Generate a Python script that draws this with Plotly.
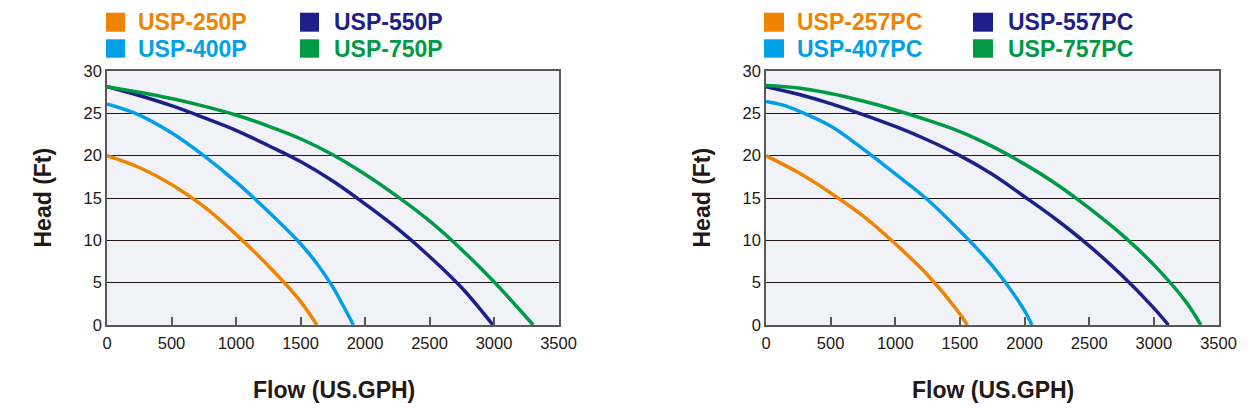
import plotly.graph_objects as go

# pump curves, left panel (flow in US.GPH, head in Ft)
flow_250p = [0, 250, 500, 750, 1000, 1250, 1500, 1627]
head_250p = [20, 18.6, 16.6, 14.0, 10.7, 7.0, 2.8, 0]
flow_400p = [0, 250, 500, 750, 1000, 1250, 1500, 1625, 1750, 1830, 1910]
head_400p = [26.1, 24.8, 22.7, 20.0, 16.9, 13.4, 9.6, 7.3, 4.5, 2.3, 0]
flow_550p = [0, 250, 500, 750, 1000, 1250, 1500, 1750, 2000, 2250, 2500, 2750, 2992]
head_550p = [28.15, 27.1, 25.9, 24.5, 23.0, 21.2, 19.3, 17.0, 14.3, 11.4, 8.1, 4.4, 0]
flow_750p = [0, 250, 500, 750, 1000, 1250, 1500, 1750, 2000, 2250, 2500, 2750, 3000, 3304]
head_750p = [28.15, 27.5, 26.75, 25.85, 24.8, 23.5, 22.0, 20.1, 17.8, 15.2, 12.3, 8.9, 5.1, 0]

# right panel
flow_257pc = [0, 250, 500, 750, 1000, 1250, 1500, 1557]
head_257pc = [20, 18.0, 15.6, 12.9, 9.6, 5.9, 1.3, 0]
flow_407pc = [0, 125, 250, 500, 750, 1000, 1250, 1500, 1750, 2000, 2057]
head_407pc = [26.4, 26.0, 25.3, 23.5, 20.8, 17.85, 14.8, 11.1, 7.0, 1.7, 0]
flow_557pc = [0, 250, 500, 750, 1000, 1250, 1500, 1750, 2000, 2250, 2500, 2750, 3000, 3113]
head_557pc = [28.15, 27.25, 26.15, 24.85, 23.45, 21.85, 20.0, 17.8, 15.15, 12.4, 9.35, 5.9, 2.0, 0]
flow_757pc = [0, 250, 500, 750, 1000, 1250, 1500, 1750, 2000, 2250, 2500, 2750, 3000, 3250, 3363]
head_757pc = [28.3, 28.0, 27.35, 26.45, 25.4, 24.2, 22.85, 21.1, 19.0, 16.6, 13.8, 10.7, 7.1, 2.7, 0]

left_names = ["USP-250P", "USP-400P", "USP-550P", "USP-750P"]
right_names = ["USP-257PC", "USP-407PC", "USP-557PC", "USP-757PC"]
colors = ["#f08300", "#00a0e9", "#1d2088", "#009944"]

# page body keeps its default 8px margin, so lay things out in window pixels minus that
OFF = 8
W, H = 1258 - OFF, 408 - OFF
ink = "#231815"
frame = "#595757"

def px(x):
    return (x - OFF) / W

def py(y):
    return 1 - (y - OFF) / H

fig = go.Figure()

left = [(flow_250p, head_250p), (flow_400p, head_400p), (flow_550p, head_550p), (flow_750p, head_750p)]
right = [(flow_257pc, head_257pc), (flow_407pc, head_407pc), (flow_557pc, head_557pc), (flow_757pc, head_757pc)]

for (fx, hy), name, c in zip(left, left_names, colors):
    fig.add_trace(go.Scatter(x=fx, y=hy, name=name, mode="lines", line=dict(color=c, width=3.5, shape="spline"),
                             xaxis="x", yaxis="y", showlegend=False))
for (fx, hy), name, c in zip(right, right_names, colors):
    fig.add_trace(go.Scatter(x=fx, y=hy, name=name, mode="lines", line=dict(color=c, width=3.5, shape="spline"),
                             xaxis="x2", yaxis="y2", showlegend=False))

xax = dict(range=[0, 3500], tickvals=list(range(0, 3501, 500)), ticks="inside", ticklen=8, tickwidth=1.5,
           tickcolor=frame, showline=True, linecolor=frame, linewidth=1.5, mirror=True, showgrid=False,
           zeroline=False, tickfont=dict(size=16.5, color=ink), fixedrange=True, automargin=False,
           ticklabelstandoff=2)
yax = dict(range=[0, 30], tickvals=list(range(0, 31, 5)), ticks="", showline=True, linecolor=frame,
           linewidth=1.5, mirror=True, showgrid=True, gridcolor=ink, gridwidth=1, zeroline=False,
           tickfont=dict(size=16.5, color=ink), fixedrange=True, automargin=False)

y_dom = [py(325), py(71)]
fig.update_layout(
    width=W, height=H,
    margin=dict(l=0, r=0, t=0, b=0, pad=0, autoexpand=False),
    paper_bgcolor="white",
    plot_bgcolor="#f1f2f8",
    showlegend=False,
    font=dict(family="Liberation Sans, Arial, sans-serif", color=ink),
    xaxis=dict(xax, domain=[px(107), px(558.5)], anchor="y"),
    yaxis=dict(yax, domain=y_dom, anchor="x"),
    xaxis2=dict(xax, domain=[px(766), px(1218.5)], anchor="y2"),
    yaxis2=dict(yax, domain=y_dom, anchor="x2"),
)

# axis titles
for cx in (334, 993):
    fig.add_annotation(x=px(cx), y=py(390), xref="paper", yref="paper", text="<b>Flow (US.GPH)</b>",
                       showarrow=False, font=dict(size=23, color=ink), xanchor="center", yanchor="middle")
for cx in (42, 701):
    fig.add_annotation(x=px(cx), y=py(197.5), xref="paper", yref="paper", text="<b>Head (Ft)</b>",
                       showarrow=False, font=dict(size=23, color=ink), textangle=-90,
                       xanchor="center", yanchor="middle")

# legend blocks: squares + bold labels
legend_spots = [
    (left_names, [(106, 125, 12.7, 31.7, 137, 22.3), (106, 125, 39.3, 57.7, 137, 48.5),
                  (300, 319, 12.7, 31.7, 333, 22.3), (300, 319, 39.3, 57.7, 333, 48.5)]),
    (right_names, [(764, 784, 12.7, 31.7, 796, 22.3), (764, 784, 39.3, 57.7, 796, 48.5),
                   (973, 993, 12.7, 31.7, 1007, 22.3), (973, 993, 39.3, 57.7, 1007, 48.5)]),
]
for names, spots in legend_spots:
    for name, c, (x0, x1, y0, y1, tx, ty) in zip(names, colors, spots):
        fig.add_shape(type="rect", xref="paper", yref="paper", x0=px(x0), x1=px(x1), y0=py(y1), y1=py(y0),
                      fillcolor=c, line=dict(width=0))
        fig.add_annotation(x=px(tx), y=py(ty), xref="paper", yref="paper", text="<b>%s</b>" % name,
                           showarrow=False, font=dict(size=23, color=c), xanchor="left", yanchor="middle",
                           borderpad=0)

fig.write_html("out.html")
